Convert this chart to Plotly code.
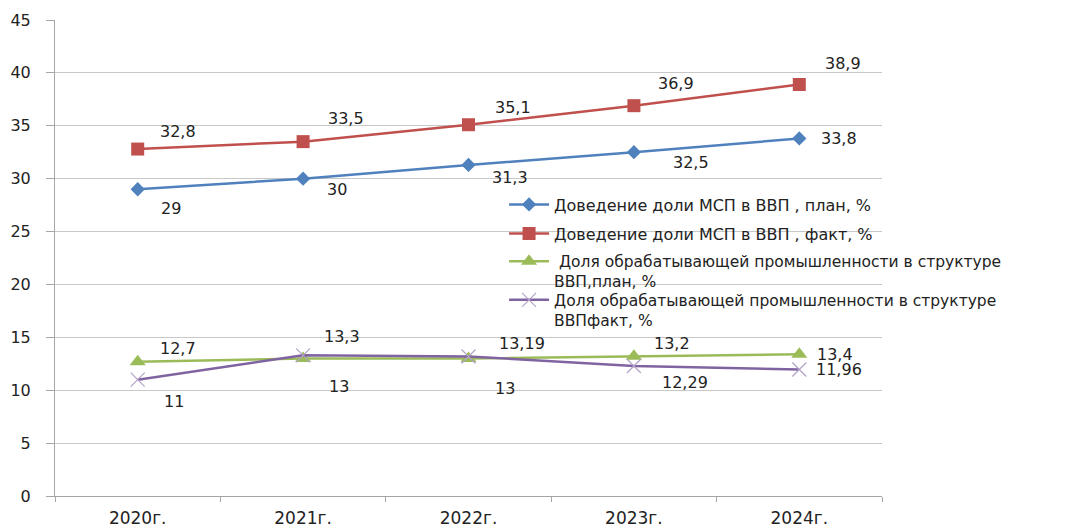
import plotly.graph_objects as go

categories = ["2020г.", "2021г.", "2022г.", "2023г.", "2024г."]
msp_plan = [29, 30, 31.3, 32.5, 33.8]
msp_fact = [32.8, 33.5, 35.1, 36.9, 38.9]
ind_plan = [12.7, 13, 13, 13.2, 13.4]
ind_fact = [11, 13.3, 13.19, 12.29, 11.96]
series_names = [
    "Доведение доли МСП в ВВП , план, %",
    "Доведение доли МСП в ВВП , факт, %",
    " Доля обрабатывающей промышленности в структуре<br>ВВП,план, %",
    "Доля обрабатывающей промышленности в структуре<br>ВВПфакт, %",
]

# style
colors = ["#4F81BD", "#C0504D", "#9BBB59", "#8064A2"]
symbols = ["diamond", "square", "triangle-up", "x-thin"]
msizes = [11, 13, 14, 14]
legend_ids = ["legend", "legend2", "legend3", "legend4"]
legend_y = [0.648, 0.587, 0.528, 0.447]
legend_fs = [16, 16, 15.5, 15.5]
# label offsets in pixels (dx right, dy down)
offsets = [
    [(33, 19), (34, 11), (41, 13), (57, 10), (40, 0)],
    [(40, -18), (43, -23), (44, -17), (42, -22), (44, -21)],
    [(40, -13), (36, 28), (36, 30), (38, -13), (36, 0)],
    [(36, 22), (39, -19), (53, -13), (51, 16), (40, 0)],
]

font_main = "DejaVu Sans"
txt_color = "#222222"
fig = go.Figure()
all_series = [msp_plan, msp_fact, ind_plan, ind_fact]
for i, (vals, name) in enumerate(zip(all_series, series_names)):
    marker = dict(symbol=symbols[i], size=msizes[i], color=colors[i])
    if symbols[i] == "x-thin":
        marker = dict(symbol="x-thin", size=msizes[i], color="#B3A2C7",
                      line=dict(color="#B3A2C7", width=1.2))
    fig.add_trace(go.Scatter(
        x=categories, y=vals, name=name, mode="lines+markers",
        line=dict(color=colors[i], width=2.5), marker=marker,
        legend=legend_ids[i],
    ))
    for j, v in enumerate(vals):
        dx, dy = offsets[i][j]
        fig.add_annotation(
            x=categories[j], y=v, text=f"{v:g}".replace(".", ","),
            showarrow=False, xshift=dx, yshift=-dy,
            font=dict(family=font_main, size=16, color=txt_color),
        )

legend_layout = {}
for lid, ly, fs in zip(legend_ids, legend_y, legend_fs):
    legend_layout[lid] = dict(
        x=0.543, y=ly, xanchor="left", yanchor="top", valign="top",
        bgcolor="rgba(0,0,0,0)",
        font=dict(family=font_main, size=fs, color=txt_color),
        itemwidth=40,
    )

fig.update_layout(
    width=1092, height=524,
    margin=dict(l=47, r=218, t=12, b=36),
    paper_bgcolor="white", plot_bgcolor="white",
    font=dict(family=font_main, size=16, color=txt_color),
    showlegend=True,
    xaxis=dict(
        type="category", range=[-0.5, 4.5], showgrid=False,
        showline=True, linecolor="#A6A6A6", linewidth=1,
        ticks="outside", tickson="boundaries", ticklen=5, tickcolor="#A6A6A6",
        automargin=False, tickfont=dict(size=17), ticklabelstandoff=7,
    ),
    yaxis=dict(
        range=[0, 45], dtick=5, showgrid=True, gridcolor="#C8C8C8", gridwidth=1,
        showline=True, linecolor="#A6A6A6", linewidth=1,
        ticks="outside", ticklen=8, tickcolor="#A6A6A6",
        ticklabelstandoff=12, automargin=False, zeroline=False,
        tickfont=dict(size=16),
    ),
    **legend_layout,
)

fig.write_html("out.html")
